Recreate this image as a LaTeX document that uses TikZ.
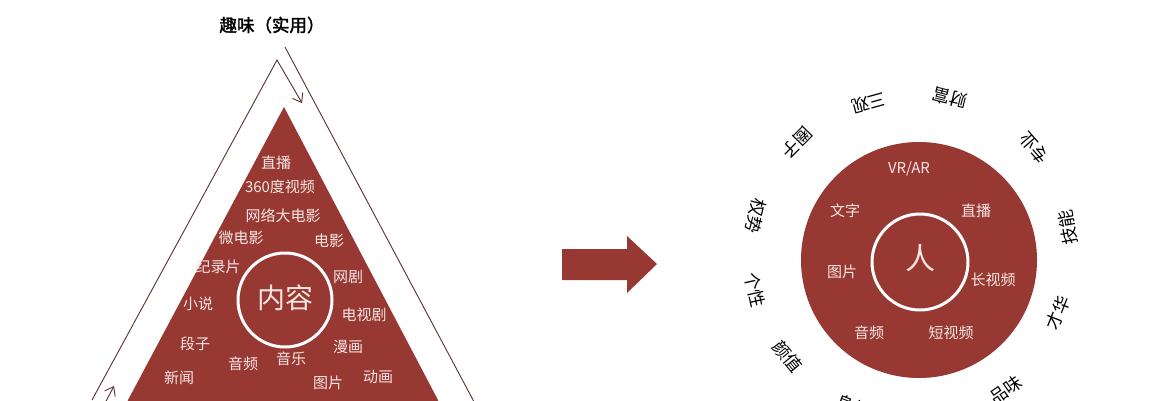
\documentclass[tikz,border=0pt]{standalone}
\usepackage{fontspec}
\newfontfamily\cjk{Noto Sans CJK SC}
\newfontfamily\cjkb[FakeBold=2]{Noto Sans CJK SC}
\usetikzlibrary{arrows.meta}
\definecolor{brick}{HTML}{983833}
\definecolor{pale}{HTML}{F6E6E2}
\definecolor{linebrown}{HTML}{5A2E2C}
\begin{document}
\begin{tikzpicture}[x=1pt,y=-1pt,
  lbl/.style={font=\cjk\fontsize{15}{15}\selectfont, text=pale, inner sep=0pt},
  ringlbl/.style={font=\cjk\fontsize{17.5}{17.5}\selectfont, text=black, inner sep=0pt},
  guide/.style={draw=linebrown, line width=0.9pt},
  tipped/.style={-{Straight Barb[length=8pt,width=12pt]}}]
\useasboundingbox (0,0) rectangle (1149,400);

% ---------- left: triangle ----------
\coordinate (la) at (92,400);
\coordinate (apex) at (277,60);
\coordinate (atip) at (302,103);
\coordinate (ra) at (285,47);
\coordinate (rb) at (480,413);
\coordinate (ba) at (104,405);
\coordinate (bb) at (114,386);

\fill[brick] (284,107) -- (438,400) -- (438,410) -- (125,410) -- (128,400) -- cycle;

\draw[guide,tipped] (la) -- (apex) -- (atip);
\draw[guide] (ra) -- (rb);
\draw[guide,tipped] (ba) -- (bb);

\node[font=\cjkb\fontsize{17.5}{17.5}\selectfont, inner sep=0pt] (title) at (272,25) {趣味（实用）};

\node[draw=white, line width=3pt, circle, minimum size=94pt, inner sep=0pt] (content) at (285,300) {};
\node[font=\cjk\fontsize{28}{28}\selectfont, text=pale, inner sep=0pt] (contentlbl) at (285,298) {内容};

\node[lbl] (t1) at (276,163) {直播};
\node[lbl] (t2) at (280,187) {360度视频};
\node[lbl] (t3) at (283,216) {网络大电影};
\node[lbl] (t4) at (241,238) {微电影};
\node[lbl] (t5) at (329,241) {电影};
\node[lbl] (t6) at (218,267) {纪录片};
\node[lbl] (t7) at (348,277) {网剧};
\node[lbl] (t8) at (198,304) {小说};
\node[lbl] (t9) at (364,315) {电视剧};
\node[lbl] (t10) at (195,344) {段子};
\node[lbl] (t11) at (348,347) {漫画};
\node[lbl] (t12) at (291,359) {音乐};
\node[lbl] (t13) at (243,364) {音频};
\node[lbl] (t14) at (179,378) {新闻};
\node[lbl] (t15) at (378,377) {动画};
\node[lbl] (t16) at (328,383) {图片};

% ---------- middle arrow ----------
\fill[brick] (562,249) -- (627,249) -- (627,236) -- (657,264) -- (627,293) -- (627,280) -- (562,280) -- cycle;

% ---------- right: circle ----------
\node[fill=brick, circle, minimum size=236pt, inner sep=0pt] (big) at (919,260) {};
\node[draw=white, line width=3pt, circle, minimum size=96pt, inner sep=0pt] (inner) at (920,262) {};
\node[font=\cjk\fontsize{30}{30}\selectfont, text=pale, inner sep=0pt] (ren) at (920,258) {人};

\node[lbl] (c1) at (909,169) {VR/AR};
\node[lbl] (c2) at (845,211) {文字};
\node[lbl] (c3) at (976,211) {直播};
\node[lbl] (c4) at (842,272) {图片};
\node[lbl] (c5) at (993,280) {长视频};
\node[lbl] (c6) at (869,333) {音频};
\node[lbl] (c7) at (951,333) {短视频};

\coordinate (rc) at (911,255);
\foreach \a/\r/\t [count=\i] in {-55/165/品味, -21.5/158/才华, 10/159/技能, 41/163/专业,
   76/162/财富, 105.5/158/三观, 135.5/160/圈子, 166/160/权势, 192.6/160/个性,
   219.4/160/颜值, 249/162/身材}{
  \path (rc) ++(-\a:\r) node[ringlbl, rotate=\a+90] (r\i) {\t};
}
\end{tikzpicture}
\end{document}
